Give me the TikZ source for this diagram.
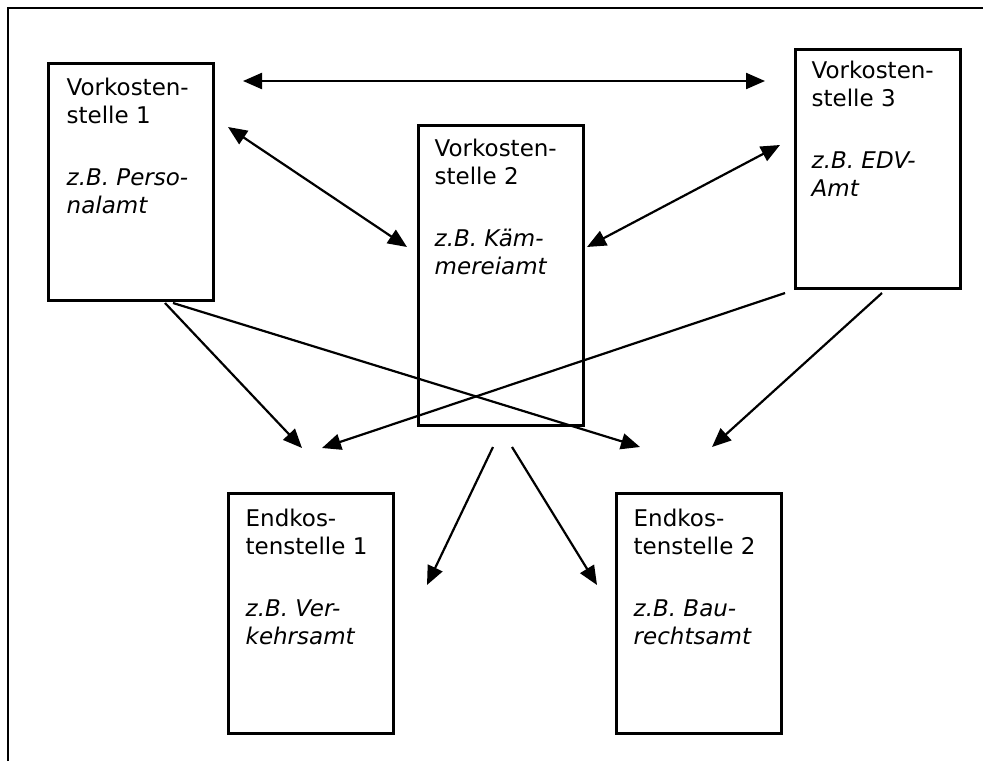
\documentclass[tikz,border=0pt]{standalone}
\usepackage{fontspec}
\setmainfont{DejaVu Sans}
\usetikzlibrary{arrows.meta,calc}

\begin{document}
\begin{tikzpicture}[x=1pt,y=-1pt,
  costbox/.style={draw=black, line width=3pt, minimum width=165pt, inner sep=0pt},
  boxtext/.style={anchor=base west, inner sep=0pt,
    font=\fontsize{23}{28.3}\selectfont},
  tip/.style={Triangle[length=19pt,width=16pt]},
  flow/.style={line width=2.2pt, -{Triangle[length=19pt,width=16pt]}},
  flowboth/.style={line width=2.2pt, {Triangle[length=19pt,width=16pt]}-{Triangle[length=19pt,width=16pt]}},
  frameline/.style={line width=2pt}]

\useasboundingbox (0,0) rectangle (983,761);

% outer frame (top and left edge only)
\coordinate (fl) at (8,761);
\coordinate (fc) at (8,8);
\coordinate (fr) at (983,8);
\draw[frameline] (fl) -- (fc) -- (fr);

% cost centres
\node[costbox, minimum height=237pt] (v1) at (130.5,181.5) {};
\node[costbox, minimum height=300pt] (v2) at (500.5,275) {};
\node[costbox, minimum height=239pt] (v3) at (877.5,168.5) {};
\node[costbox, minimum height=240pt] (e1) at (310.5,613) {};
\node[costbox, minimum height=240pt] (e2) at (698.5,613) {};

% labels
\newcommand{\costlabel}[4]{%
  \begin{tabular}[t]{@{}l@{}}#1\\#2\\[33.4pt]\itshape #3\\\itshape #4\end{tabular}}
\node[boxtext] (t1) at ($(v1.north west)+(20,34)$) {\costlabel{Vorkosten-}{stelle 1}{z.B. Perso-}{nalamt}};
\node[boxtext] (t2) at ($(v2.north west)+(18,33)$) {\costlabel{Vorkosten-}{stelle 2}{z.B. Käm-}{mereiamt}};
\node[boxtext] (t3) at ($(v3.north west)+(18,31)$) {\costlabel{Vorkosten-}{stelle 3}{z.B. EDV-}{Amt}};
\node[boxtext] (t4) at ($(e1.north west)+(19,35)$) {\costlabel{Endkos-}{tenstelle 1}{z.B. Ver-}{kehrsamt}};
\node[boxtext] (t5) at ($(e2.north west)+(19,35)$) {\costlabel{Endkos-}{tenstelle 2}{z.B. Bau-}{rechtsamt}};

% arrow end points
\coordinate (h1) at (243,81);
\coordinate (h3) at (765,81);
\coordinate (d1a) at (228,127);
\coordinate (d1b) at (407,247);
\coordinate (d3a) at (780,145);
\coordinate (d3b) at (587,247);
\coordinate (s1a) at (165,303);
\coordinate (s1b) at (173,303);
\coordinate (s3a) at (785,293);
\coordinate (s3b) at (882,293);
\coordinate (s2a) at (493,447);
\coordinate (s2b) at (512,447);
\coordinate (in1a) at (302,448);
\coordinate (in1b) at (322,448);
\coordinate (in2a) at (640,447);
\coordinate (in2b) at (712,447);
\coordinate (in1c) at (427,585);
\coordinate (in2c) at (597,585);

% exchange between the preliminary cost centres
\draw[flowboth] (h1) -- (h3);
\draw[flowboth] (d1a) -- (d1b);
\draw[flowboth] (d3b) -- (d3a);

% allocation to the final cost centres
\draw[flow] (s1a) -- (in1a);
\draw[flow] (s1b) -- (in2a);
\draw[flow] (s3a) -- (in1b);
\draw[flow] (s3b) -- (in2b);
\draw[flow] (s2a) -- (in1c);
\draw[flow] (s2b) -- (in2c);
\end{tikzpicture}
\end{document}
